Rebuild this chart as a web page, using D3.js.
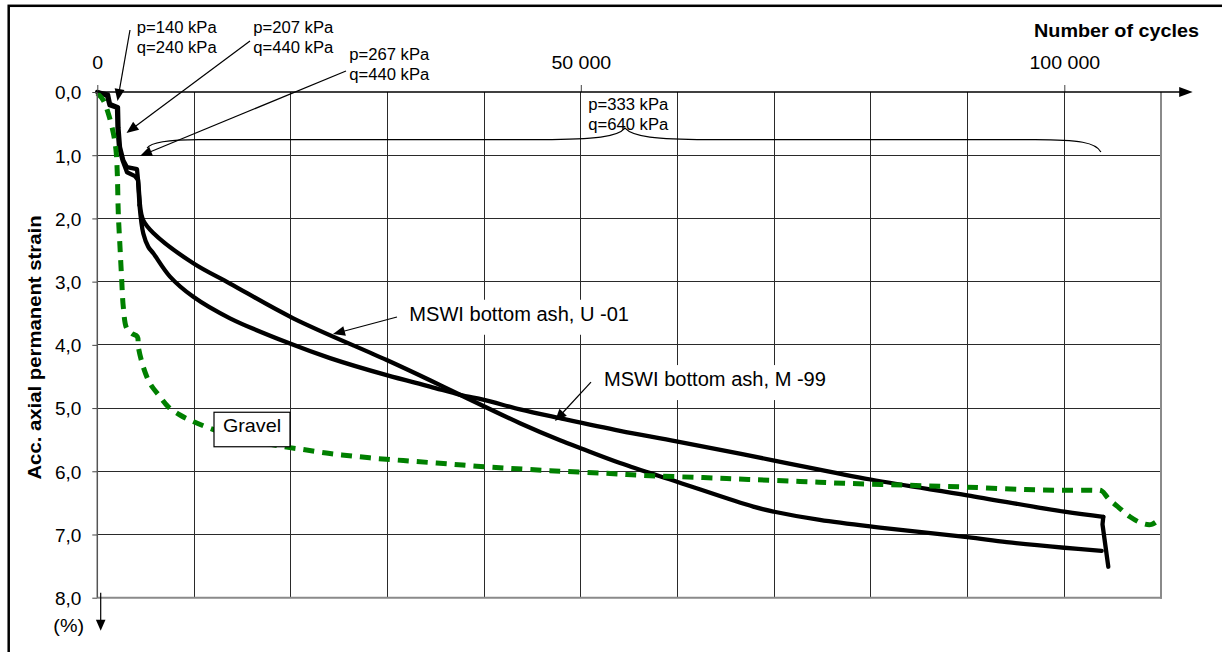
<!DOCTYPE html>
<html><head><meta charset="utf-8">
<script src="https://cdn.jsdelivr.net/npm/d3@7"></script>
<style>
html,body{margin:0;padding:0;background:#fff;}
svg{display:block;font-family:"Liberation Sans",Arial,Helvetica,sans-serif;}
</style></head><body>
<svg id="chart" width="1222" height="652"></svg>
<script>
// ---------- data ----------
const xTickValues = [0, 50000, 100000];
const xTickLabels = ["0", "50 000", "100 000"];
const yTickValues = [0, 1, 2, 3, 4, 5, 6, 7, 8];
const yTickLabels = ["0,0", "1,0", "2,0", "3,0", "4,0", "5,0", "6,0", "7,0", "8,0"];
const xGridValues = [10000, 20000, 30000, 40000, 50000, 60000, 70000, 80000, 90000, 100000];
const yGridValues = [1, 2, 3, 4, 5, 6, 7];

const seriesNames = ["MSWI bottom ash, U -01", "MSWI bottom ash, M -99", "Gravel"];

const u01Cycles = [0, 1106, 1313, 2141, 2192, 2347, 2689, 3071, 4105, 4260, 4416, 4757, 5791, 9927, 13722, 20268, 29927, 34405, 37507, 43712, 47849, 50051, 54053, 60020, 67838, 70009, 74714, 80939, 89967, 94041, 100000, 103866];
const u01Strain = [0, 0.04, 0.19, 0.24, 0.57, 0.87, 1.08, 1.19, 1.22, 1.47, 1.79, 2.03, 2.23, 2.71, 3.03, 3.58, 4.24, 4.56, 4.79, 5.24, 5.51, 5.64, 5.87, 6.17, 6.56, 6.64, 6.77, 6.89, 7.04, 7.12, 7.21, 7.26];

const m99Cycles = [0, 1003, 1262, 2037, 2089, 2244, 2606, 3071, 3899, 4209, 4364, 4757, 5274, 5791, 7518, 9927, 13722, 19927, 24064, 29927, 34405, 37507, 39989, 43712, 47849, 54053, 60020, 70009, 79976, 89967, 100000, 104033, 103950, 104550];
const m99Strain = [0, 0.06, 0.21, 0.25, 0.57, 0.87, 1.08, 1.27, 1.33, 1.39, 1.79, 2.24, 2.45, 2.55, 2.92, 3.24, 3.58, 3.98, 4.21, 4.48, 4.66, 4.79, 4.87, 5.02, 5.16, 5.36, 5.53, 5.83, 6.13, 6.38, 6.64, 6.72, 6.84, 7.51];

const gravelCycles = [0, 620, 1138, 1655, 1934, 2068, 2172, 2347, 2523, 2689, 3040, 3557, 4136, 4240, 4757, 5450, 6484, 7342, 8552, 9586, 11313, 14757, 19234, 21478, 24064, 26473, 29058, 31643, 34229, 36814, 39233, 42336, 46813, 52325, 57155, 62666, 67320, 72666, 77144, 83700, 89729, 95934, 99729, 102996, 103865, 104548, 105757, 106791, 107997, 109036, 109900];
const gravelStrain = [0.02, 0.13, 0.34, 0.65, 0.92, 1.29, 1.92, 2.45, 2.97, 3.40, 3.74, 3.82, 3.87, 4.03, 4.35, 4.61, 4.82, 4.98, 5.11, 5.19, 5.30, 5.47, 5.61, 5.66, 5.72, 5.76, 5.80, 5.83, 5.86, 5.89, 5.92, 5.95, 5.99, 6.03, 6.07, 6.10, 6.13, 6.16, 6.19, 6.22, 6.25, 6.29, 6.30, 6.30, 6.31, 6.43, 6.59, 6.72, 6.82, 6.84, 6.75];

// stress-level annotations (position in cycles / strain units)
const stressP = ["p=140 kPa", "p=207 kPa", "p=267 kPa", "p=333 kPa"];
const stressQ = ["q=240 kPa", "q=440 kPa", "q=440 kPa", "q=640 kPa"];
const stressLabelCycles = [4074, 16132, 26059, 50774];
const stressLabelStrain = [-0.938, -0.938, -0.509, 0.285];

// arrows: tail and tip (cycles / strain units)
const arrowTailCycles = [3381, 15791, 25718, 30992, 51053];
const arrowTailStrain = [-0.981, -0.807, -0.332, 3.560, 4.589];
const arrowTipCycles = [2089, 3020, 4416, 24374, 47331];
const arrowTipStrain = [0.142, 0.649, 1.013, 3.829, 5.206];

// series labels
const seriesLabelCycles = [32264, 52398, 15998];
const seriesLabelStrain = [3.619, 4.652, 5.34];

// ---------- scales ----------
const x = d3.scaleLinear().domain([0, 110000]).range([97.3, 1161]);
const y = d3.scaleLinear().domain([0, 8]).range([92, 597.7]);

const svg = d3.select("#chart");
const FONT = '"Liberation Sans", Arial, sans-serif';

function txt(sel, px, py, str, o) {
  return sel.append("text")
    .attr("transform", `translate(${px},${py})` + (o.rot ? ` rotate(${o.rot})` : "") + ` scale(${o.sx || 1},1)`)
    .attr("text-anchor", o.anchor || "start")
    .attr("font-size", o.size)
    .attr("font-weight", o.weight || "normal")
    .attr("font-family", FONT)
    .attr("fill", "#000")
    .text(str);
}
function arrow(sel, x1, y1, x2, y2, hl = 12, hw = 5) {
  const dx = x2 - x1, dy = y2 - y1, L = Math.hypot(dx, dy), ux = dx / L, uy = dy / L;
  const bx = x2 - ux * hl, by = y2 - uy * hl;
  sel.append("line").attr("x1", x1).attr("y1", y1).attr("x2", bx + ux * 2).attr("y2", by + uy * 2)
    .attr("stroke", "#000").attr("stroke-width", 1.2);
  sel.append("path")
    .attr("d", `M${x2},${y2}L${bx - uy * hw},${by + ux * hw}L${bx + uy * hw},${by - ux * hw}Z`)
    .attr("fill", "#000");
}

// outer frame
svg.append("rect").attr("x", 8.7).attr("y", 5.8).attr("width", 1400).attr("height", 800)
  .attr("fill", "none").attr("stroke", "#000").attr("stroke-width", 2.5);

// gridlines
const grid = svg.append("g").attr("shape-rendering", "crispEdges");
grid.selectAll("line.v").data(xGridValues).join("line").attr("class", "v")
  .attr("x1", d => x(d)).attr("x2", d => x(d)).attr("y1", y(0)).attr("y2", y(8))
  .attr("stroke", "#2a2a2a").attr("stroke-width", 1);
grid.selectAll("line.h").data(yGridValues).join("line").attr("class", "h")
  .attr("x1", x(0)).attr("x2", x(110000)).attr("y1", d => y(d)).attr("y2", d => y(d))
  .attr("stroke", "#2a2a2a").attr("stroke-width", 1);
// plot border right/bottom
svg.append("line").attr("x1", x(110000)).attr("x2", x(110000)).attr("y1", y(0)).attr("y2", y(8) + 1)
  .attr("stroke", "#8a8a8a").attr("stroke-width", 2);
svg.append("line").attr("x1", x(0)).attr("x2", x(110000) + 1).attr("y1", y(8)).attr("y2", y(8))
  .attr("stroke", "#8a8a8a").attr("stroke-width", 2);

// brace for p=333 kPa
const bL = 5150, bR = 103784, bPk = 54570, bH = 0.752;
const brace = `M${x(bL)},${y(0.886)} C${x(5600)},${y(0.78)} ${x(7600)},${y(bH)} ${x(10500)},${y(bH)}`
  + ` L${x(46000)},${y(bH)} C${x(51500)},${y(bH)} ${x(53800)},${y(0.71)} ${x(bPk)},${y(0.57)}`
  + ` C${x(55400)},${y(0.71)} ${x(57800)},${y(bH)} ${x(63000)},${y(bH)}`
  + ` L${x(97000)},${y(bH)} C${x(101500)},${y(bH)} ${x(103300)},${y(0.80)} ${x(bR)},${y(0.949)}`;
svg.append("path").attr("d", brace).attr("fill", "none").attr("stroke", "#000").attr("stroke-width", 1.2);

// white boxes behind series labels (MSWI)
const lblG = svg.append("g");
[0, 1].forEach(i => {
  const px = x(seriesLabelCycles[i]), py = y(seriesLabelStrain[i]);
  lblG.append("rect").attr("x", px - 8).attr("y", py - 21).attr("width", 240).attr("height", 35).attr("fill", "#fff");
});

// curves
const smooth = d3.line().x(d => x(d[0])).y(d => y(d[1])).curve(d3.curveCatmullRom.alpha(0.5));
const straight = d3.line().x(d => x(d[0])).y(d => y(d[1])).curve(d3.curveLinear);
const curves = svg.append("g").attr("fill", "none");
function blackSeries(cyc, str, s0, s1) {
  const pts = d3.zip(cyc, str);
  const parts = [[pts.slice(0, s0 + 1), straight], [pts.slice(s0, s1 + 1), smooth], [pts.slice(s1), straight]];
  parts.forEach(([p, gen]) => {
    if (p.length < 2) return;
    curves.append("path").datum(p).attr("d", gen)
      .attr("stroke", "#000").attr("stroke-width", 4.3)
      .attr("stroke-linejoin", "round").attr("stroke-linecap", "round");
  });
}
blackSeries(u01Cycles, u01Strain, 10, u01Cycles.length - 1);
blackSeries(m99Cycles, m99Strain, 10, m99Cycles.length - 3);
curves.append("path").datum(d3.zip(gravelCycles, gravelStrain)).attr("d", smooth)
  .attr("stroke", "#008000").attr("stroke-width", 5).attr("stroke-dasharray", "11,8");

// axes
const xAxis = d3.axisTop(x).tickValues(xTickValues).tickFormat((d, i) => xTickLabels[i])
  .tickSize(7).tickSizeOuter(0).tickPadding(16.5);
const gx = svg.append("g").attr("transform", `translate(0,${y(0)})`).call(xAxis);
gx.select(".domain").remove();
gx.selectAll("line").attr("stroke", "#444");
gx.selectAll("text").attr("font-size", 19).attr("font-family", FONT).attr("fill", "#000")
  .attr("transform", "scale(1.03,1)");

const yAxis = d3.axisLeft(y).tickValues(yTickValues).tickFormat((d, i) => yTickLabels[i])
  .tickSize(5).tickSizeOuter(0).tickPadding(11);
const gy = svg.append("g").attr("transform", `translate(${x(0)},0)`).call(yAxis);
gy.select(".domain").remove();
gy.selectAll("line").attr("stroke", "#444");
gy.selectAll("text").attr("font-size", 19).attr("font-family", FONT).attr("fill", "#000").attr("dy", "0.36em");

// axis lines
svg.append("line").attr("x1", x(0)).attr("x2", x(0)).attr("y1", y(0)).attr("y2", y(8))
  .attr("stroke", "#555").attr("stroke-width", 1.5);
svg.append("line").attr("x1", x(0)).attr("x2", x(110000) + 20).attr("y1", y(0)).attr("y2", y(0))
  .attr("stroke", "#000").attr("stroke-width", 1.5);
const axEnd = x(110000) + 31.7;
svg.append("path").attr("d", `M${axEnd},${y(0)}L${axEnd - 13.5},${y(0) - 5}L${axEnd - 13.5},${y(0) + 5}Z`).attr("fill", "#000");
// downward unit arrow
const ax = x(0) + 3.4;
svg.append("line").attr("x1", ax).attr("x2", ax).attr("y1", y(8) - 5).attr("y2", y(8) + 24)
  .attr("stroke", "#000").attr("stroke-width", 1.2);
svg.append("path").attr("d", `M${ax},${y(8) + 33}L${ax - 4.8},${y(8) + 22}L${ax + 4.8},${y(8) + 22}Z`).attr("fill", "#000");

// axis titles
txt(svg, 1199, 37.3, "Number of cycles", { size: 18, weight: "bold", anchor: "end", sx: 1.1 });
txt(svg, 40.5, 347.5, "Acc. axial permanent strain", { size: 19, weight: "bold", anchor: "middle", rot: -90, sx: 1.07 });
txt(svg, 68.7, 632, "(%)", { size: 19, anchor: "middle", sx: 1.04 });

// Gravel label box
{
  const px = x(seriesLabelCycles[2]), py = y(seriesLabelStrain[2]);
  svg.append("rect").attr("x", px - 38).attr("y", py - 17.3).attr("width", 76).attr("height", 34.5)
    .attr("fill", "#fff").attr("stroke", "#000").attr("stroke-width", 1.2);
  txt(svg, px, py + 2.8, seriesNames[2], { size: 19, anchor: "middle", sx: 1.04 });
}
// MSWI labels
[0, 1].forEach(i => {
  txt(svg, x(seriesLabelCycles[i]), y(seriesLabelStrain[i]), seriesNames[i], { size: 19.5, sx: 1.03 });
});

// stress labels
stressP.forEach((p, i) => {
  const px = x(stressLabelCycles[i]), py = y(stressLabelStrain[i]);
  txt(svg, px, py, p, { size: 16, sx: 1.04 });
  txt(svg, px, py + 20, stressQ[i], { size: 16, sx: 1.04 });
});

// arrows
const arrG = svg.append("g");
arrowTailCycles.forEach((c, i) => {
  arrow(arrG, x(c), y(arrowTailStrain[i]), x(arrowTipCycles[i]), y(arrowTipStrain[i]));
});
</script>
</body></html>
